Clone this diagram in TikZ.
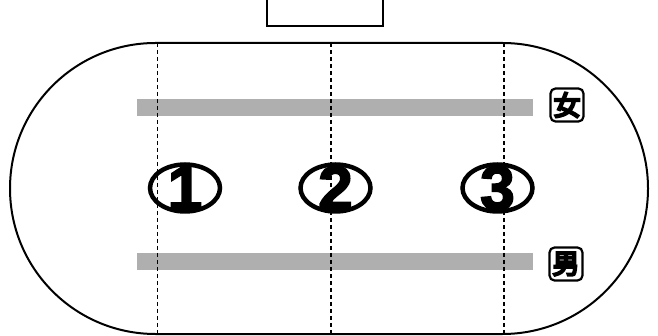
\documentclass[tikz,border=0pt]{standalone}
\usepackage{fontspec}
\usepackage{tikz}
\usetikzlibrary{
  positioning,
  shapes.geometric
}
\setmainfont{Liberation Sans}
\newfontfamily\cjk[FakeBold=8]{Noto Sans CJK JP}
\newfontfamily\numfont[FakeBold=3]{Liberation Sans Bold}
\definecolor{lanegray}{RGB}{175,175,175}

\tikzset{
  track/.style={draw=black, line width=2pt},
  lane/.style={fill=lanegray},
  divider/.style={draw=black, line width=1.1pt, dash pattern=on 4pt off 3pt},
  numring/.style={ellipse, draw=black, line width=4.5pt,
    minimum width=70pt, minimum height=47pt, inner sep=0pt},
  numtext/.style={font=\numfont\fontsize{62}{62}\selectfont, inner sep=0pt},
  signbox/.style={rectangle, rounded corners=5pt, draw=black, line width=2.2pt,
    minimum size=33pt, inner sep=0pt, font=\cjk\fontsize{27}{27}\selectfont}
}

\begin{document}
\begin{tikzpicture}[x=1pt, y=-1pt]
  \useasboundingbox (0,0) rectangle (658,336);

  % Board at the top
  \node[draw=black, line width=2pt, minimum width=116pt, minimum height=32pt,
    inner sep=0pt, anchor=south] (board) at (324.5,27.5) {};

  % Track
  \draw[track] (155.5,43) -- (502.5,43)
    arc[start angle=-90, end angle=90, radius=145.5]
    -- (155.5,334)
    arc[start angle=90, end angle=270, radius=145.5] -- cycle;

  % Lanes
  \fill[lane] (137,99) rectangle (533,116);
  \fill[lane] (137,253) rectangle (533,270);

  % Dividers
  \foreach \k/\x in {1/157.5, 2/331, 3/504}{
    \coordinate (t\k) at (\x,43);
    \coordinate (b\k) at (\x,334);
    \draw[divider] (t\k) -- (b\k);
  }

  % Numbered zones
  \foreach \k/\x in {1/185, 2/335.5, 3/497.5}{
    \node[numring] (Z\k) at (\x,188) {};
    \node[numtext] (N\k) at (Z\k) {\k};
  }

  % Signs
  \node[signbox] (female) at (567,105) {女};
  \node[signbox] (male) at (566,264) {男};
\end{tikzpicture}
\end{document}
